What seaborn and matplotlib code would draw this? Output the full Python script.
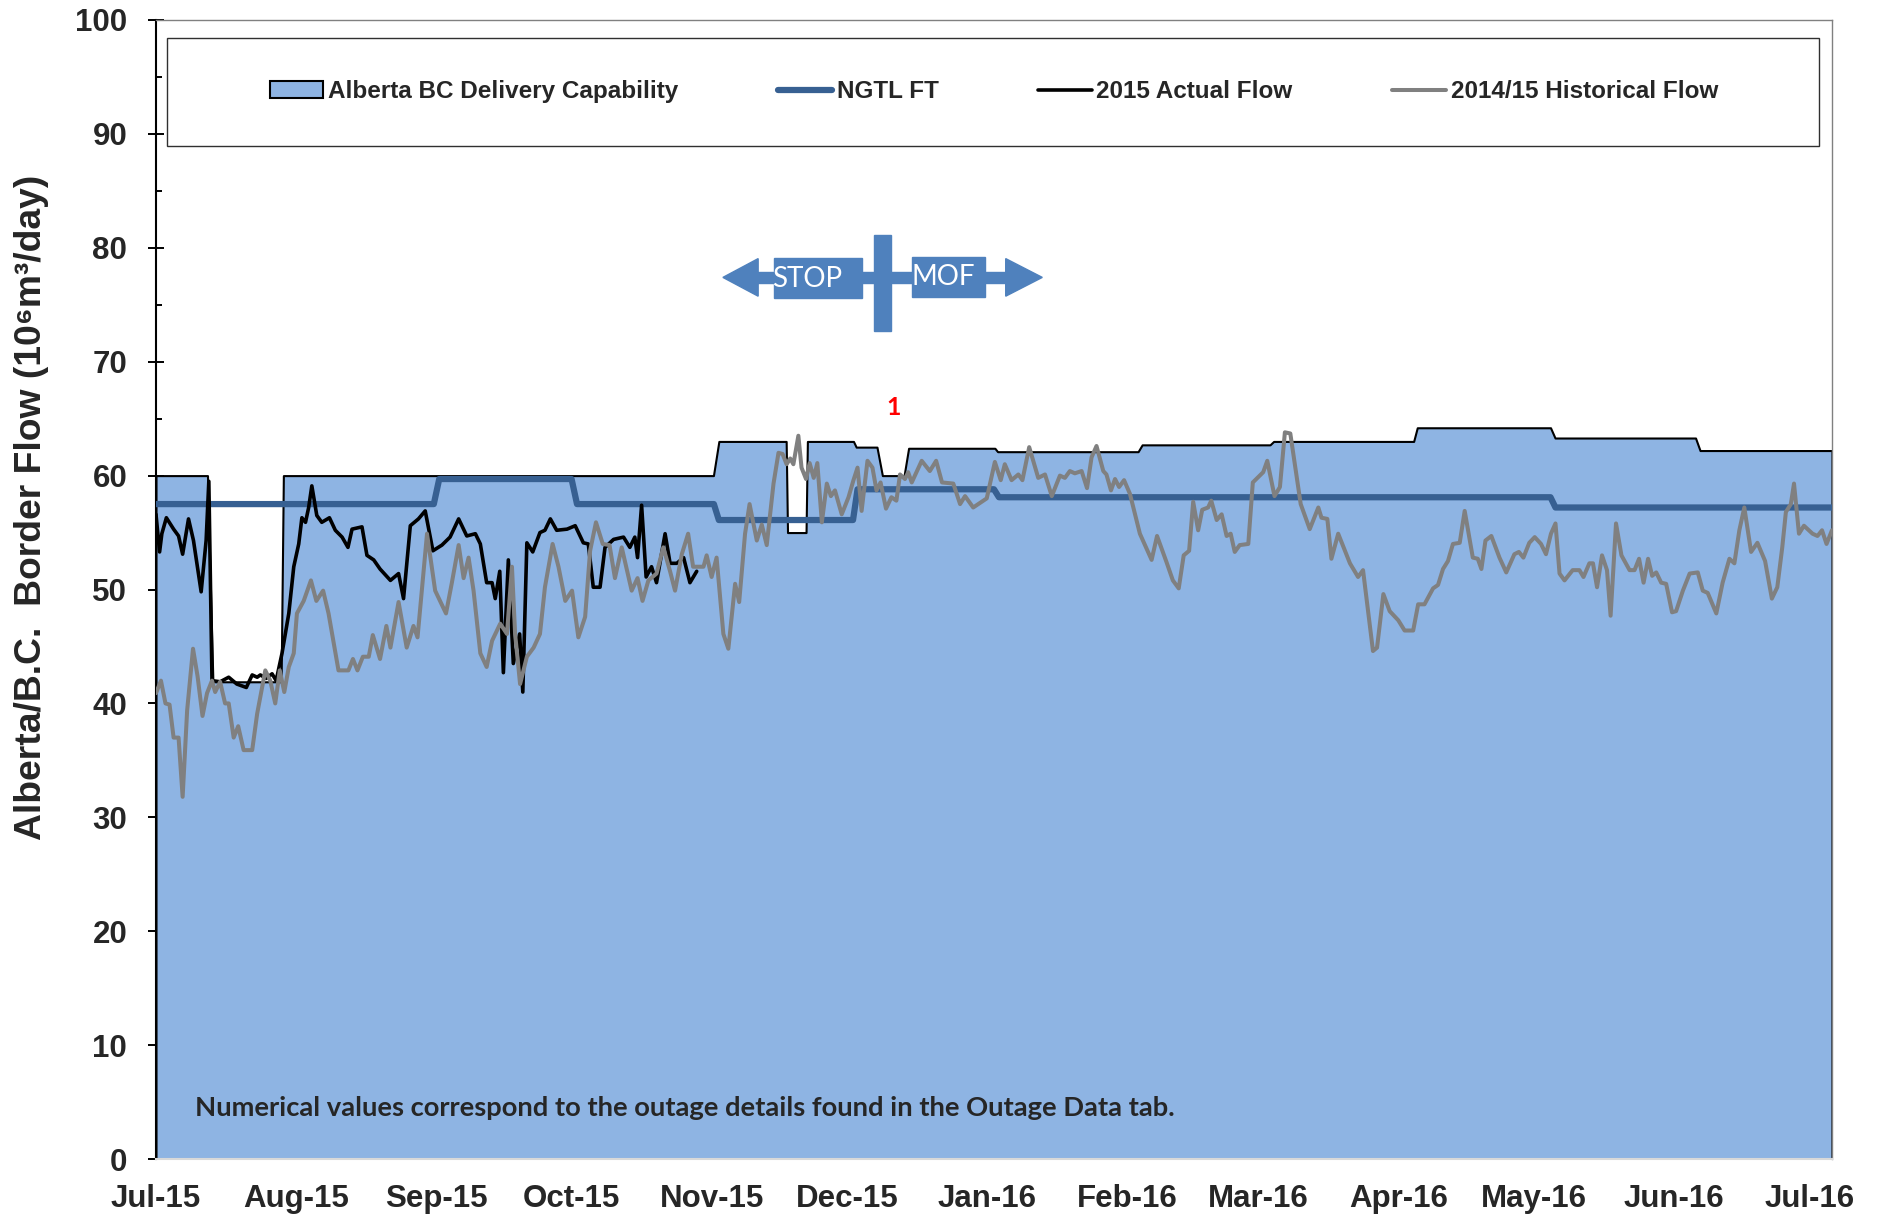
import numpy as np
import pandas as pd
import matplotlib
matplotlib.use("Agg")
import matplotlib.pyplot as plt
import matplotlib.dates as mdates
from matplotlib.patches import Rectangle, Polygon
import seaborn as sns

sns.set_style("white")
plt.rcParams["font.family"] = ["Liberation Sans", "DejaVu Sans"]

# ---------------- data (days after 2015-07-01, 10^6 m3/day) ----------------
START = pd.Timestamp("2015-07-01")
END_DAY = 371

cap_day = [0, 11.4, 12.6, 27.7, 28.2, 123.4, 124.6, 139.5, 139.8, 143.9, 144.2,
           154.4, 155.0, 159.6, 160.8, 165.6, 166.6, 185.7, 186.3, 217.4, 218.3,
           246.6, 247.4, 278.4, 279.2, 308.7, 309.7, 340.8, 341.8, 371]
cap_val = [60, 60, 41.9, 41.9, 60, 60, 63, 63, 55, 55, 63,
           63, 62.5, 62.5, 60, 60, 62.4, 62.4, 62.1, 62.1, 62.7,
           62.7, 63.0, 63.0, 64.2, 64.2, 63.3, 63.3, 62.2, 62.2]

ngtl_day = [0, 61.5, 62.7, 92.0, 93.2, 123.5, 124.6, 154.3, 155.3, 185.5, 186.6,
            308.7, 309.8, 371]
ngtl_val = [57.5, 57.5, 59.7, 59.7, 57.5, 57.5, 56.1, 56.1, 58.8, 58.8, 58.1,
            58.1, 57.2, 57.2]

act_day = [0, 0.8, 1.3, 2.3, 3.9, 5.0, 5.9, 7.2, 8.3, 10.0, 11.1, 11.7, 12.4,
           14.2, 16.1, 17.9, 20.0, 21.3, 22.4, 23.1, 24.4, 25.7, 26.6, 27.9,
           29.4, 30.5, 31.6, 32.3, 33.1, 33.8, 34.5, 35.6, 36.7, 38.4, 39.7,
           41.2, 42.5, 43.4, 45.6, 46.7, 48.2, 49.6, 51.9, 53.7, 54.8, 56.3,
           58.1, 59.6, 61.3, 63.3, 65.1, 67.0, 68.8, 70.7, 71.8, 73.2, 74.4,
           75.1, 76.1, 76.9, 78.0, 79.1, 80.5, 81.2, 82.1, 83.4, 85.0, 86.1,
           87.3, 88.7, 91.0, 92.8, 94.6, 95.7, 96.8, 98.3, 99.4, 101.3, 103.5,
           104.9, 106.0, 106.6, 107.5, 108.5, 109.7, 110.8, 112.7, 113.8,
           115.3, 116.8, 118.2, 119.7]
act_val = [56.6, 53.3, 54.9, 56.3, 55.3, 54.7, 53.1, 56.2, 54.3, 49.8, 54.3,
           59.5, 42.0, 41.9, 42.3, 41.7, 41.4, 42.5, 42.3, 42.5, 42.2, 42.6,
           42.0, 44.4, 47.9, 52.0, 54.0, 56.3, 55.9, 57.2, 59.1, 56.5, 55.9,
           56.3, 55.2, 54.6, 53.7, 55.3, 55.5, 53.0, 52.6, 51.8, 50.8, 51.4,
           49.2, 55.6, 56.2, 56.9, 53.4, 53.9, 54.6, 56.2, 54.7, 54.9, 54.0,
           50.6, 50.6, 49.2, 51.6, 42.7, 52.6, 43.5, 46.1, 41.0, 54.1, 53.3,
           55.0, 55.2, 56.2, 55.2, 55.3, 55.6, 54.1, 54.0, 50.2, 50.2, 53.7,
           54.4, 54.6, 53.7, 54.6, 52.8, 57.4, 51.1, 52.0, 50.6, 54.9, 52.3,
           52.3, 52.8, 50.6, 51.6]

hist_day = [0, 1.1, 2.1, 3.0, 3.9, 5.0, 5.9, 6.9, 8.2, 9.2, 10.3, 11.3, 12.4,
            13.1, 14.2, 15.3, 16.1, 17.2, 18.2, 19.4, 21.3, 22.4, 24.2, 25.3,
            26.4, 27.4, 28.4, 29.4, 30.5, 31.2, 32.7, 34.3, 35.5, 37.0, 38.2,
            40.4, 42.6, 43.6, 44.6, 45.8, 47.1, 48.0, 49.6, 51.0, 51.9, 53.7,
            55.5, 57.0, 57.9, 60.0, 61.8, 64.2, 65.5, 67.0, 68.1, 69.2, 70.3,
            71.8, 73.2, 74.4, 76.2, 77.7, 78.8, 79.5, 80.6, 82.1, 83.6, 85.0,
            86.1, 87.8, 89.1, 90.6, 92.1, 93.5, 95.0, 96.1, 97.4, 98.9, 100.4,
            101.6, 103.1, 105.3, 106.6, 107.7, 109.0, 110.8, 112.3, 113.8,
            114.9, 116.4, 117.8, 118.9, 121.2, 121.9, 123.0, 124.1, 125.6,
            126.7, 128.2, 129.1, 130.4, 131.4, 133.0, 134.1, 135.2, 136.7,
            137.8, 138.7, 139.6, 140.4, 141.1, 142.2, 142.9, 143.9, 144.7,
            145.6, 146.4, 147.4, 148.5, 149.4, 150.3, 151.8, 153.3, 154.4,
            155.3, 156.2, 157.5, 158.6, 159.5, 160.4, 161.6, 162.8, 163.9,
            164.7, 165.8, 166.5, 167.3, 169.5, 171.3, 172.7, 174.0, 176.5,
            178.0, 179.1, 180.9, 183.9, 185.7, 187.0, 187.9, 189.4, 190.9,
            191.8, 193.3, 195.3, 196.8, 198.3, 200.1, 201.2, 202.3, 203.4,
            204.9, 206.1, 207.1, 208.2, 209.7, 210.4, 211.4, 212.3, 213.2,
            214.3, 215.6, 217.8, 220.4, 221.6, 223.7, 225.1, 226.4, 227.5,
            228.7, 229.6, 230.7, 231.6, 232.9, 233.6, 234.8, 235.9, 237.0,
            237.9, 238.8, 239.9, 241.8, 242.8, 245.1, 246.0, 247.6, 248.8,
            249.9, 251.1, 253.4, 255.4, 257.3, 258.0, 259.3, 260.2, 261.7,
            264.3, 266.1, 267.2, 269.4, 270.3, 271.7, 273.1, 275.0, 276.4,
            278.3, 279.4, 280.8, 282.7, 283.8, 284.9, 286.0, 287.1, 288.6,
            289.7, 291.5, 292.6, 293.4, 294.3, 295.6, 297.4, 298.9, 300.7,
            301.7, 302.7, 304.0, 305.2, 306.6, 307.7, 308.8, 309.8, 310.7,
            311.8, 313.6, 315.1, 316.0, 317.3, 318.1, 319.0, 320.1, 321.2,
            322.0, 323.2, 324.4, 326.2, 327.3, 328.3, 329.3, 330.3, 331.2,
            332.1, 333.2, 334.3, 335.6, 336.5, 338.0, 339.5, 341.3, 342.4,
            343.5, 345.4, 346.8, 348.3, 349.4, 350.5, 351.6, 353.1, 354.5,
            356.2, 357.7, 358.9, 360.0, 360.8, 361.9, 362.6, 363.7, 364.8,
            366.7, 367.8, 368.8, 369.8, 371.0]
hist_val = [40.9, 42.0, 40.0, 39.9, 37.0, 37.0, 31.8, 39.4, 44.8, 42.4, 38.9,
            40.9, 42.0, 41.0, 41.9, 40.0, 40.0, 37.0, 38.0, 35.9, 35.9, 39.1,
            42.9, 42.0, 40.0, 42.9, 41.0, 43.2, 44.4, 47.9, 49.0, 50.8, 49.0,
            49.9, 47.9, 42.9, 42.9, 43.9, 42.9, 44.1, 44.1, 46.0, 43.9, 46.8,
            44.9, 48.9, 44.9, 46.8, 45.8, 54.9, 49.9, 47.9, 50.6, 53.9, 51.0,
            52.8, 49.9, 44.4, 43.2, 45.5, 47.0, 46.1, 52.0, 46.1, 41.7, 44.1,
            44.9, 46.1, 50.2, 54.0, 52.0, 49.0, 49.9, 45.8, 47.6, 53.4, 55.9,
            54.0, 53.9, 51.0, 53.7, 49.9, 51.0, 49.0, 50.8, 51.4, 53.7, 51.6,
            49.9, 53.1, 54.9, 52.0, 52.0, 53.0, 51.1, 52.8, 46.1, 44.8, 50.5,
            48.9, 54.9, 57.5, 54.3, 55.7, 53.9, 59.3, 62.0, 61.9, 61.0, 61.5,
            61.0, 63.5, 60.7, 59.7, 61.1, 59.8, 61.1, 55.9, 59.3, 58.2, 58.7,
            56.6, 58.1, 59.6, 60.7, 56.9, 61.3, 60.7, 58.7, 59.4, 57.1, 58.1,
            57.8, 60.1, 59.7, 60.3, 59.4, 61.3, 60.4, 61.3, 59.4, 59.3, 57.5,
            58.2, 57.2, 58.0, 61.2, 59.6, 61.0, 59.6, 60.1, 59.6, 62.5, 59.8,
            60.1, 58.2, 60.0, 59.8, 60.4, 60.2, 60.4, 58.9, 61.6, 62.6, 60.4,
            60.1, 58.7, 59.7, 59.0, 59.6, 58.4, 54.9, 52.6, 54.7, 52.4, 50.8,
            50.1, 53.0, 53.4, 57.7, 55.2, 57.0, 57.2, 57.8, 56.1, 56.6, 54.7,
            54.9, 53.3, 53.9, 54.0, 59.4, 60.3, 61.3, 58.2, 59.0, 63.8, 63.7,
            57.5, 55.3, 57.2, 56.3, 56.2, 52.7, 54.9, 52.3, 51.1, 51.7, 44.6,
            44.9, 49.6, 48.1, 47.3, 46.4, 46.4, 48.7, 48.7, 50.1, 50.4, 51.8,
            52.5, 54.0, 54.1, 56.9, 52.8, 52.7, 51.8, 54.3, 54.7, 52.8, 51.5,
            53.1, 53.3, 52.8, 54.1, 54.6, 54.0, 53.1, 54.9, 55.8, 51.4, 50.8,
            51.7, 51.7, 51.1, 52.3, 52.3, 50.2, 53.0, 51.7, 47.7, 55.8, 53.0,
            51.7, 51.7, 52.7, 50.6, 52.7, 51.2, 51.5, 50.6, 50.5, 48.0, 48.1,
            49.9, 51.4, 51.5, 49.9, 49.7, 47.9, 50.6, 52.7, 52.3, 55.2, 57.2,
            53.3, 54.1, 52.5, 49.2, 50.2, 53.7, 56.8, 57.5, 59.3, 54.9, 55.6,
            54.9, 54.7, 55.2, 54.0, 55.2]

legend_labels = ["Alberta BC Delivery Capability", "NGTL FT",
                 "2015 Actual Flow", "2014/15 Historical Flow"]
y_ticks = list(range(0, 101, 10))


def to_dates(days):
    return START + pd.to_timedelta(np.asarray(days, dtype=float), unit="D")


cap_dates = to_dates(cap_day)

# ---------------- figure ----------------
fig = plt.figure(figsize=(18.77, 12.18), dpi=100)
ax = fig.add_axes([0.0831, 0.0484, 0.8929, 0.9352])

ax.fill_between(cap_dates, 0, cap_val, facecolor="#8EB4E3", edgecolor="black",
                linewidth=1.5, label=legend_labels[0], zorder=1)
sns.lineplot(x=to_dates(ngtl_day), y=ngtl_val, ax=ax, color="#376092", lw=4.5,
             estimator=None, sort=False, label=legend_labels[1], zorder=3)
sns.lineplot(x=to_dates(act_day), y=act_val, ax=ax, color="black", lw=2.6,
             estimator=None, sort=False, label=legend_labels[2], zorder=4,
             solid_joinstyle="round")
sns.lineplot(x=to_dates(hist_day), y=hist_val, ax=ax, color="#808080", lw=2.9,
             estimator=None, sort=False, label=legend_labels[3], zorder=5,
             solid_joinstyle="round")

# ---------------- axes ----------------
ax.set_xlim(START, START + pd.Timedelta(days=END_DAY))
ax.set_ylim(0, 100)
ax.set_yticks(y_ticks)
ax.yaxis.set_minor_locator(plt.MultipleLocator(5))
ax.xaxis.set_major_locator(mdates.MonthLocator())
ax.xaxis.set_major_formatter(mdates.DateFormatter("%b-%y"))
ax.set_xlabel("")

for lab in ax.get_xticklabels() + ax.get_yticklabels():
    lab.set_fontweight("bold")
ax.tick_params(axis="y", which="major", direction="inout", length=11.5,
               width=1.4, color="black", labelsize=22.5, pad=15, left=True)
ax.tick_params(axis="y", which="minor", direction="in", length=4.3,
               width=1.4, color="black", left=True)
ax.tick_params(axis="x", which="major", direction="in", length=6,
               width=1.5, color="#F2F2F2", labelsize=22.5, pad=18, bottom=True)

ax.spines["left"].set_color("black")
ax.spines["left"].set_linewidth(1.5)
ax.spines["bottom"].set_color("#D9D9D9")
ax.spines["bottom"].set_linewidth(1.5)
for side in ("top", "right"):
    ax.spines[side].set_color("#808080")
    ax.spines[side].set_linewidth(1.0)

ax.set_ylabel("Alberta/B.C.  Border Flow (10\u2076m\u00b3/day)", fontsize=26.8,
              fontweight="bold")
ax.yaxis.set_label_coords(-0.064, 0.572)

# ---------------- legend ----------------
handles, labels = ax.get_legend_handles_labels()
order = [labels.index(l) for l in legend_labels]
ax.legend([handles[i] for i in order], [labels[i] for i in order],
          loc="center", bbox_to_anchor=(0.5, 0.9368), ncol=4, frameon=False,
          prop={"weight": "bold", "size": 17.5}, handlelength=2.2,
          handletextpad=0.2, columnspacing=4.1)
ax.add_patch(Rectangle((0.0066, 0.889), 0.9856, 0.095, transform=ax.transAxes,
                       fill=False, edgecolor="#303030", lw=1.0, zorder=6))

# ---------------- STOP / MOF marker ----------------
blue = "#4F81BD"
x0 = mdates.date2num(START)
ax.add_patch(Rectangle((x0 + 133.0, 76.9), 55.4, 1.0, color=blue, zorder=7))
ax.add_patch(Polygon([(x0 + 125.5, 77.4), (x0 + 133.3, 79.05), (x0 + 133.3, 75.75)],
                     color=blue, zorder=7))
ax.add_patch(Polygon([(x0 + 196.2, 77.4), (x0 + 188.1, 79.05), (x0 + 188.1, 75.75)],
                     color=blue, zorder=7))
ax.add_patch(Rectangle((x0 + 136.8, 75.6), 19.4, 3.5, color=blue, zorder=7))
ax.add_patch(Rectangle((x0 + 167.3, 75.7), 16.2, 3.5, color=blue, zorder=7))
ax.add_patch(Rectangle((x0 + 159.0, 72.7), 3.6, 8.4, color=blue, zorder=7))
ax.text(x0 + 144.2, 77.3, "STOP", color="white", fontsize=20, family="Lato",
        ha="center", va="center", zorder=8)
ax.text(x0 + 174.3, 77.4, "MOF", color="white", fontsize=20, family="Lato",
        ha="center", va="center", zorder=8)
ax.text(x0 + 163.2, 66.0, "1", color="red", fontsize=18, family="Lato",
        fontweight="bold", ha="center", va="center", zorder=8)

ax.text(0.0233, 0.0448, "Numerical values correspond to the outage details "
        "found in the Outage Data tab.", transform=ax.transAxes, family="Lato",
        fontweight="bold", fontsize=19.7, ha="left", va="center", zorder=8)

fig.savefig("out.png", dpi=100)
